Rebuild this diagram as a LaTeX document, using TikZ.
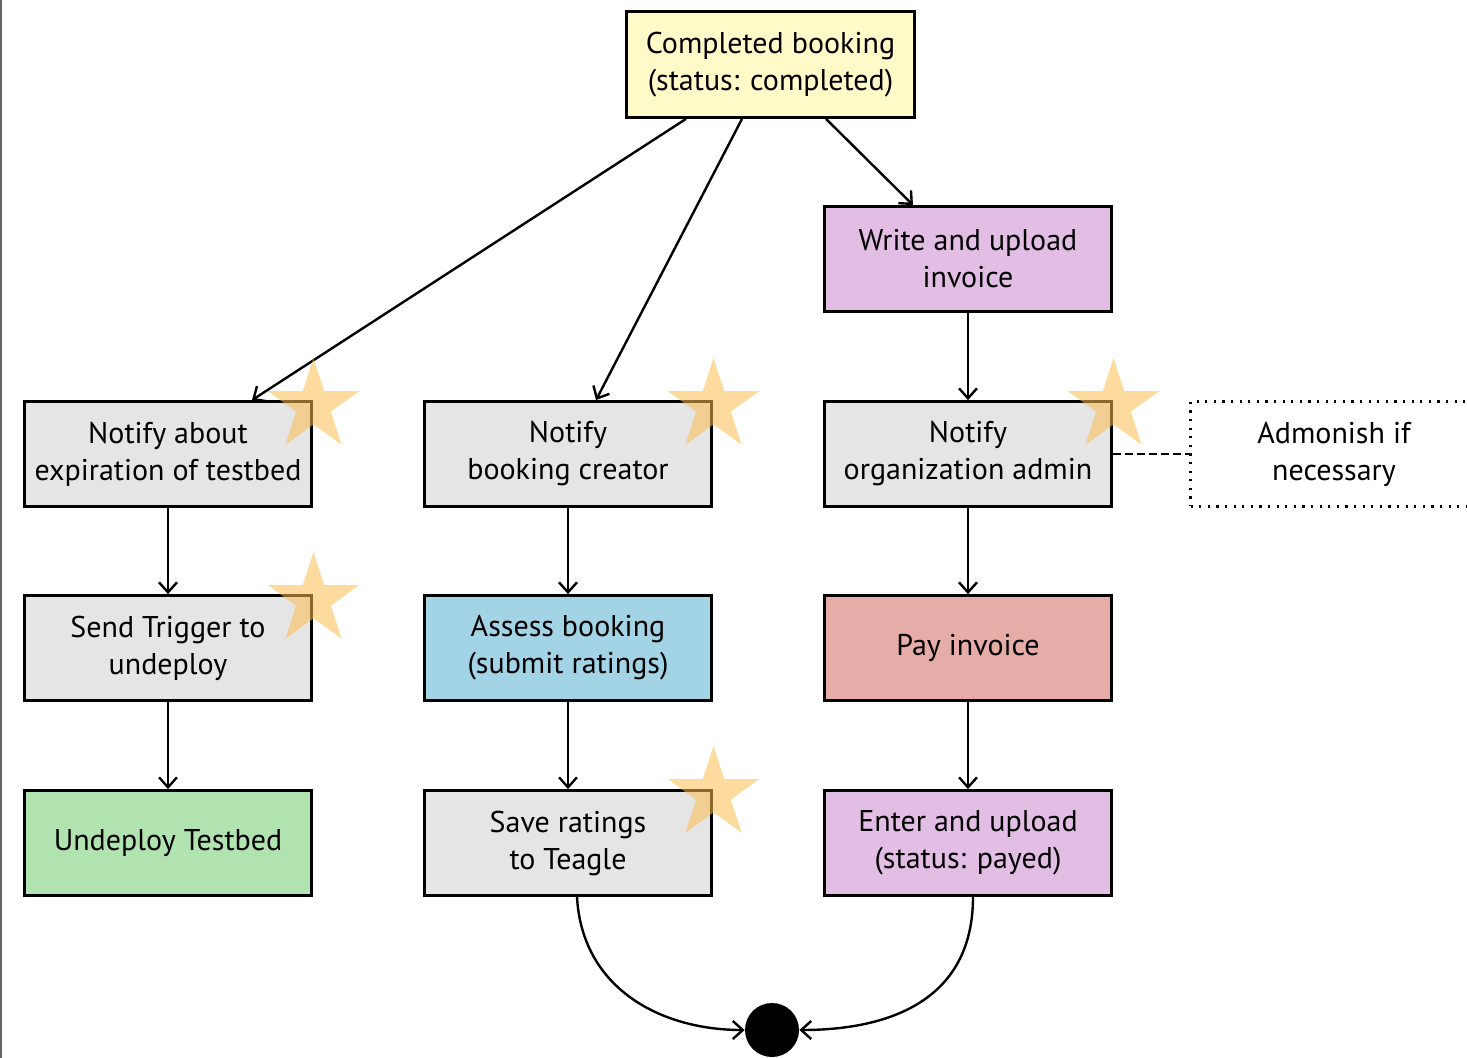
\documentclass[tikz,border=0pt]{standalone}
\usepackage{fontspec}
\setmainfont{PT Sans}
\usetikzlibrary{arrows.meta,shapes.geometric}
\definecolor{cyellow}{RGB}{255,250,200}
\definecolor{cpurple}{RGB}{226,189,228}
\definecolor{cgrey}{RGB}{229,229,229}
\definecolor{cblue}{RGB}{162,212,230}
\definecolor{cred}{RGB}{230,172,167}
\definecolor{cgreen}{RGB}{177,227,176}
\definecolor{cstar}{RGB}{252,190,80}
\begin{document}
\begin{tikzpicture}[x=0.5pt,y=-0.5pt,
  box/.style={draw=black,line width=1.4pt,minimum width=143.5pt,minimum height=52.5pt,inner sep=0pt,align=center,font=\fontsize{15}{18.5}\selectfont},
  arr/.style={line width=1.2pt,-{Straight Barb[length=5pt,width=9pt,line width=1.2pt]}},
  starshape/.style={star,star points=5,star point ratio=2.618,minimum size=48pt,inner sep=0pt,fill=cstar,fill opacity=0.55,draw=none},
  dotbox/.style={box,draw=black,line width=1.1pt,dash pattern=on 1.1pt off 3.2pt},
  dashline/.style={line width=1.2pt,dash pattern=on 4pt off 2pt}]
\useasboundingbox (0,0) rectangle (1467,1058);
\clip (0,0) rectangle (1467,1058);
\draw[black!60,line width=1pt] (1,0) -- (1,1058);
% boxes
\node[box,fill=cyellow,minimum width=144pt,minimum height=53pt] (top) at (770.5,64.5) {Completed booking\\(status: completed)};
\node[box,fill=cpurple] (write) at (968,259) {Write and upload\\invoice};
\node[box,fill=cgrey] (expire) at (168,454) {Notify about\\expiration of testbed};
\node[box,fill=cgrey] (creator) at (568,454) {Notify\\booking creator};
\node[box,fill=cgrey] (admin) at (968,454) {Notify\\organization admin};
\node[dotbox] (admonish) at (1334,454) {Admonish if\\necessary};
\node[box,fill=cgrey] (trigger) at (168,648) {Send Trigger to\\undeploy};
\node[box,fill=cblue] (assess) at (568,648) {Assess booking\\(submit ratings)};
\node[box,fill=cred] (pay) at (968,648) {Pay invoice};
\node[box,fill=cgreen] (undeploy) at (168,843) {Undeploy Testbed};
\node[box,fill=cgrey] (save) at (568,843) {Save ratings\\to Teagle};
\node[box,fill=cpurple] (enter) at (968,843) {Enter and upload\\(status: payed)};
\node[circle,fill=black,minimum size=27pt,inner sep=0pt] (end) at (772,1030) {};
% connectors
\draw[arr] ([xshift=-42.25pt]top.south) -- ([xshift=42pt]expire.north);
\draw[arr] ([xshift=-14.25pt]top.south) -- ([xshift=14pt]creator.north);
\draw[arr] ([xshift=27.75pt]top.south) -- ([xshift=-27.5pt]write.north);
\draw[arr] (write.south) -- (admin.north);
\draw[arr] (expire.south) -- (trigger.north);
\draw[arr] (trigger.south) -- (undeploy.north);
\draw[arr] (creator.south) -- (assess.north);
\draw[arr] (assess.south) -- (save.north);
\draw[arr] (admin.south) -- (pay.north);
\draw[arr] (pay.south) -- (enter.north);
\draw[dashline] (admin.east) -- (admonish.west);
\coordinate (l1) at (582,988);
\coordinate (l2) at (660,1030);
\coordinate (r1) at (973,1000);
\coordinate (r2) at (890,1030);
\draw[arr] ([xshift=4.5pt]save.south) .. controls (l1) and (l2) .. (end.west);
\draw[arr] ([xshift=2.5pt]enter.south) .. controls (r1) and (r2) .. (end.east);
% stars
\node[starshape] (s1) at (313.5,406) {};
\node[starshape] (s2) at (313.5,600) {};
\node[starshape] (s3) at (713.5,406) {};
\node[starshape] (s4) at (1113.5,406) {};
\node[starshape] (s5) at (713.5,794) {};
\end{tikzpicture}
\end{document}
